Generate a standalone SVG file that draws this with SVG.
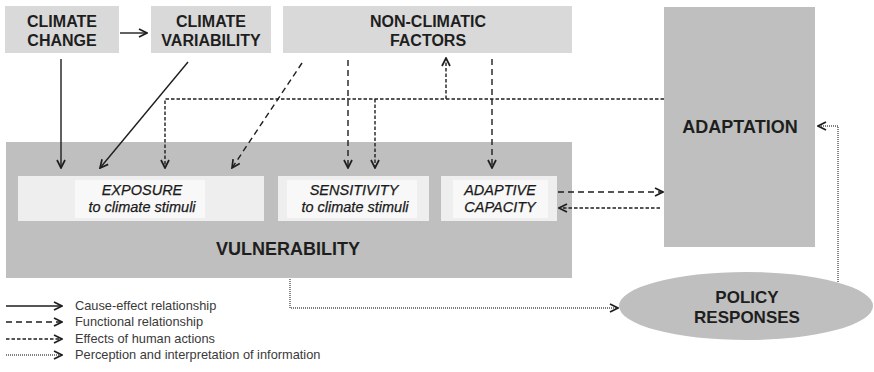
<svg xmlns="http://www.w3.org/2000/svg" width="874" height="372" viewBox="0 0 874 372">
<defs>
<style>
.top{fill:#d9d9d9}
.big{fill:#bfbfbf}
.outer{fill:#eeeeee}
.inner{fill:#f8f8f8}
.t{font-family:"Liberation Sans",Arial,sans-serif;fill:#1e1e1e;text-anchor:middle}
.b{font-weight:bold}
.i{font-style:italic;font-size:14.5px;fill:#1a1a1a;stroke:#1a1a1a;stroke-width:0.25}
.lg{font-family:"Liberation Sans",Arial,sans-serif;font-size:12.8px;fill:#3a3a3a}
.c{fill:none;stroke:#1e1e1e;stroke-width:1.4}
.f{stroke-dasharray:6 4}
.h{stroke-dasharray:3.5 2}
.p{stroke-dasharray:1 1;stroke:#555;stroke-width:1.4}
</style>
<marker id="ah" viewBox="0 0 10 10" refX="9" refY="5" markerWidth="10" markerHeight="10" markerUnits="userSpaceOnUse" orient="auto">
<path d="M1,1 L9,5 L1,9" fill="none" stroke="#1e1e1e" stroke-width="1.7"/>
</marker>
</defs>
<rect width="874" height="372" fill="#ffffff"/>

<g id="climate-change">
<rect class="top" x="5" y="6" width="114" height="47"/>
<text class="t b" x="62" y="27" font-size="16">CLIMATE</text>
<text class="t b" x="62" y="46" font-size="16">CHANGE</text>
</g>
<g id="climate-variability">
<rect class="top" x="151" y="6" width="120" height="47"/>
<text class="t b" x="211" y="27" font-size="16">CLIMATE</text>
<text class="t b" x="211" y="46" font-size="16">VARIABILITY</text>
</g>
<g id="non-climatic-factors">
<rect class="top" x="283" y="6" width="289" height="47"/>
<text class="t b" x="428" y="27" font-size="16">NON-CLIMATIC</text>
<text class="t b" x="428" y="46" font-size="16">FACTORS</text>
</g>
<g id="adaptation">
<rect class="big" x="664" y="7" width="151" height="240"/>
<text class="t b" x="740" y="133" font-size="18">ADAPTATION</text>
</g>
<g id="vulnerability">
<rect class="big" x="6" y="142" width="566" height="136"/>
<text class="t b" x="288" y="255" font-size="18">VULNERABILITY</text>
</g>
<g id="exposure">
<rect class="outer" x="18" y="176" width="246" height="45"/>
<rect class="inner" x="75" y="180" width="130" height="38"/>
<text class="t i" x="142" y="195">EXPOSURE</text>
<text class="t i" x="142" y="212">to climate stimuli</text>
</g>
<g id="sensitivity">
<rect class="outer" x="278" y="176" width="151" height="45"/>
<rect class="inner" x="287" y="180" width="130" height="38"/>
<text class="t i" x="354" y="195">SENSITIVITY</text>
<text class="t i" x="355" y="212">to climate stimuli</text>
</g>
<g id="adaptive-capacity">
<rect class="outer" x="441" y="176" width="116" height="45"/>
<rect class="inner" x="453" y="180" width="95" height="38"/>
<text class="t i" x="500" y="195">ADAPTIVE</text>
<text class="t i" x="500" y="212">CAPACITY</text>
</g>
<g id="policy-responses">
<ellipse class="big" cx="746" cy="306" rx="127" ry="34"/>
<text class="t b" x="747" y="303" font-size="17">POLICY</text>
<text class="t b" x="747" y="323" font-size="17">RESPONSES</text>
</g>

<g id="connectors">
<line class="c" x1="120" y1="33" x2="147" y2="33" marker-end="url(#ah)"/>
<line class="c" x1="61" y1="59" x2="61" y2="168" marker-end="url(#ah)"/>
<line class="c" x1="188" y1="62" x2="100" y2="168" marker-end="url(#ah)"/>
<line class="c f" x1="302" y1="63" x2="232" y2="168" marker-end="url(#ah)"/>
<line class="c f" x1="348" y1="60" x2="348" y2="168" marker-end="url(#ah)"/>
<line class="c f" x1="492" y1="59" x2="492" y2="168" marker-end="url(#ah)"/>
<path class="c h" d="M664,99 L165,99 L165,168" marker-end="url(#ah)"/>
<line class="c h" x1="375" y1="99" x2="375" y2="168" marker-end="url(#ah)"/>
<line class="c h" x1="446" y1="99" x2="446" y2="58" marker-end="url(#ah)"/>
<line class="c f" x1="558" y1="192" x2="663" y2="192" marker-end="url(#ah)"/>
<line class="c h" x1="660" y1="208" x2="559" y2="208" marker-end="url(#ah)"/>
<path class="c p" d="M290,279 L290,308 L618,308" marker-end="url(#ah)"/>
<path class="c p" d="M838,282 L838,126 L818,126" marker-end="url(#ah)"/>
</g>

<g id="legend">
<line class="c" x1="6" y1="306" x2="62" y2="306" marker-end="url(#ah)"/>
<line class="c f" x1="6" y1="322" x2="62" y2="322" marker-end="url(#ah)"/>
<line class="c h" x1="6" y1="339" x2="62" y2="339" marker-end="url(#ah)"/>
<line class="c p" x1="6" y1="355" x2="62" y2="355" marker-end="url(#ah)"/>
<text class="lg" x="75" y="310">Cause-effect relationship</text>
<text class="lg" x="75" y="326">Functional relationship</text>
<text class="lg" x="75" y="343">Effects of human actions</text>
<text class="lg" x="75" y="359">Perception and interpretation  of information</text>
</g>
</svg>
